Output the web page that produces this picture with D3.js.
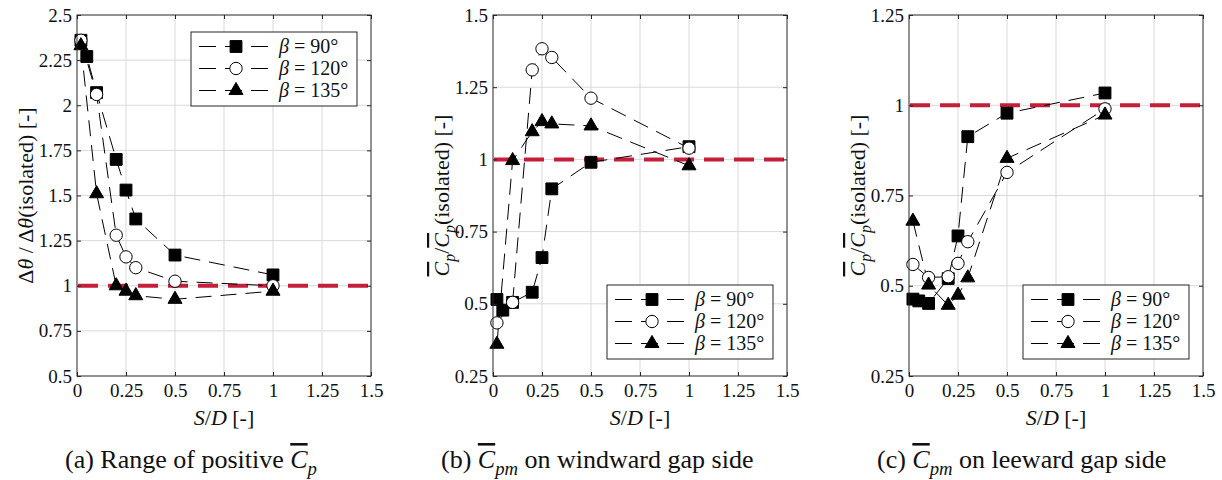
<!DOCTYPE html>
<html>
<head>
<meta charset="utf-8">
<script src="https://cdn.jsdelivr.net/npm/d3@7"></script>
<style>
  body { margin: 0; background: #fff; }
</style>
</head>
<body>
<script>
// S/D positions (the 90 deg series has one extra point at 0.05)
const sdSquare = [0.02, 0.05, 0.1, 0.2, 0.25, 0.3, 0.5, 1];
const sdOther = [0.02, 0.1, 0.2, 0.25, 0.3, 0.5, 1];

// (a) range of positive Cp
const a90 = [2.36, 2.27, 2.07, 1.70, 1.53, 1.37, 1.17, 1.06];
const a120 = [2.36, 2.06, 1.28, 1.16, 1.10, 1.025, 1.0];
const a135 = [2.33, 1.51, 1.0, 0.97, 0.945, 0.925, 0.97];

// (b) windward gap side
const b90 = [0.515, 0.478, 0.505, 0.54, 0.66, 0.898, 0.99, 1.044];
const b120 = [0.434, 0.505, 1.31, 1.383, 1.353, 1.212, 1.039];
const b135 = [0.36, 0.996, 1.096, 1.131, 1.123, 1.116, 0.978];

// (c) leeward gap side
const c90 = [0.463, 0.458, 0.451, 0.52, 0.638, 0.913, 0.978, 1.034];
const c120 = [0.559, 0.523, 0.525, 0.562, 0.622, 0.814, 0.99];
const c135 = [0.679, 0.502, 0.446, 0.474, 0.522, 0.853, 0.973];

const xTicks = [0, 0.25, 0.5, 0.75, 1, 1.25, 1.5];
const yTicksA = [0.5, 0.75, 1, 1.25, 1.5, 1.75, 2, 2.25, 2.5];
const yTicksB = [0.25, 0.5, 0.75, 1, 1.25, 1.5];
const yTicksC = [0.25, 0.5, 0.75, 1, 1.25];

const legendLabels = ["90°", "120°", "135°"];
const refValue = 1;

const width = 1222, height = 480;
const plotTop = 15, plotBottom = 376, plotW = 294;

const svg = d3.select("body").append("svg")
  .attr("width", width)
  .attr("height", height);

// writes a list of styled pieces into a text element
const rich = (txt, parts, fs) => {
  let shift = 0;
  parts.forEach(p => {
    const ts = txt.append("tspan").text(p.t);
    if (p.it) ts.attr("font-style", "italic");
    if (p.over) ts.style("text-decoration", "overline");
    let want = p.sub ? fs * 0.28 : 0;
    if (want !== shift) { ts.attr("dy", want - shift); shift = want; }
    if (p.sub) ts.attr("font-size", fs * 0.72);
  });
};

const cpOverParts = [
  {t: "C", it: true, over: true}, {t: "p", it: true, sub: true},
  {t: "/"},
  {t: "C", it: true, over: true}, {t: "p", it: true, sub: true},
  {t: "(isolated)  [-]"}
];

const panels = [
  {left: 77, yDomain: [0.5, 2.5], yTicks: yTicksA, ys: [a90, a120, a135], legTop: 17,
   ylab: [{t: "Δ"}, {t: "θ", it: true}, {t: " / Δ"}, {t: "θ", it: true}, {t: "(isolated)  [-]"}],
   capX: 65, cap: [{t: "(a)  Range of positive "}, {t: "C", it: true, over: true}, {t: "p", it: true, sub: true}]},
  {left: 493, yDomain: [0.25, 1.5], yTicks: yTicksB, ys: [b90, b120, b135], legTop: 270,
   ylab: cpOverParts,
   capX: 441, cap: [{t: "(b)  "}, {t: "C", it: true, over: true}, {t: "pm", it: true, sub: true}, {t: " on windward gap side"}]},
  {left: 909, yDomain: [0.25, 1.25], yTicks: yTicksC, ys: [c90, c120, c135], legTop: 270,
   ylab: cpOverParts,
   capX: 877, cap: [{t: "(c)  "}, {t: "C", it: true, over: true}, {t: "pm", it: true, sub: true}, {t: " on leeward gap side"}]}
];

const markers = [
  {type: d3.symbolSquare, size: 140, fill: "#000"},
  {type: d3.symbolCircle, size: 120, fill: "#fff"},
  {type: d3.symbolTriangle, size: 85, fill: "#000"}
];

panels.forEach(p => {
  const x = d3.scaleLinear().domain([0, 1.5]).range([p.left, p.left + plotW]);
  const y = d3.scaleLinear().domain(p.yDomain).range([plotBottom, plotTop]);
  const g = svg.append("g");

  // grid
  g.selectAll(".gx").data(xTicks.slice(1, -1)).enter().append("line")
    .attr("x1", d => x(d)).attr("x2", d => x(d))
    .attr("y1", plotTop).attr("y2", plotBottom)
    .attr("stroke", "#d9d9d9").attr("stroke-width", 1);
  g.selectAll(".gy").data(p.yTicks.slice(1, -1)).enter().append("line")
    .attr("y1", d => y(d)).attr("y2", d => y(d))
    .attr("x1", p.left).attr("x2", p.left + plotW)
    .attr("stroke", "#d9d9d9").attr("stroke-width", 1);

  // reference line at 1
  g.append("line")
    .attr("x1", x(0) + 1).attr("x2", x(1.5) - 1)
    .attr("y1", y(refValue)).attr("y2", y(refValue))
    .attr("stroke", "#c41e3a").attr("stroke-width", 4)
    .attr("stroke-dasharray", "20,10");

  // series
  p.ys.forEach((vals, i) => {
    const xs = i === 0 ? sdSquare : sdOther;
    const pts = vals.map((v, k) => [xs[k], v]);
    g.append("path")
      .attr("d", d3.line().x(d => x(d[0])).y(d => y(d[1]))(pts))
      .attr("fill", "none").attr("stroke", "#000").attr("stroke-width", 1)
      .attr("stroke-dasharray", "16,9");
  });
  p.ys.forEach((vals, i) => {
    const xs = i === 0 ? sdSquare : sdOther;
    const m = markers[i];
    g.selectAll(null).data(vals).enter().append("path")
      .attr("transform", (d, k) => `translate(${x(xs[k])},${y(d)})`)
      .attr("d", d3.symbol().type(m.type).size(m.size))
      .attr("fill", m.fill).attr("stroke", "#000").attr("stroke-width", 1);
  });

  // axes: box with inward ticks on all sides
  const tl = -4;
  g.append("g").attr("transform", `translate(0,${plotBottom})`)
    .call(d3.axisBottom(x).tickValues(xTicks).tickSizeInner(tl).tickSizeOuter(0).tickFormat(d => String(d)))
    .call(a => a.selectAll("text").attr("y", 8).attr("font-size", 19));
  g.append("g").attr("transform", `translate(0,${plotTop})`)
    .call(d3.axisTop(x).tickValues(xTicks).tickSizeInner(tl).tickSizeOuter(0).tickFormat(""));
  g.append("g").attr("transform", `translate(${p.left},0)`)
    .call(d3.axisLeft(y).tickValues(p.yTicks).tickSizeInner(tl).tickSizeOuter(0).tickFormat(d => String(d)))
    .call(a => a.selectAll("text").attr("x", -5).attr("font-size", 19));
  g.append("g").attr("transform", `translate(${p.left + plotW},0)`)
    .call(d3.axisRight(y).tickValues(p.yTicks).tickSizeInner(tl).tickSizeOuter(0).tickFormat(""));
  g.selectAll(".domain").remove();
  g.selectAll(".tick line").attr("stroke", "#262626");
  g.append("rect")
    .attr("x", p.left).attr("y", plotTop)
    .attr("width", plotW).attr("height", plotBottom - plotTop)
    .attr("fill", "none").attr("stroke", "#262626").attr("stroke-width", 1);

  // axis labels
  const xl = g.append("text").attr("x", p.left + plotW / 2).attr("y", 425)
    .attr("text-anchor", "middle").attr("font-size", 22);
  rich(xl, [{t: "S", it: true}, {t: "/"}, {t: "D", it: true}, {t: " [-]"}], 22);

  const yl = g.append("text")
    .attr("transform", `translate(${p.left - 44},${(plotTop + plotBottom) / 2}) rotate(-90)`)
    .attr("text-anchor", "middle").attr("font-size", 22);
  rich(yl, p.ylab, 22);

  // legend
  const lx = p.left + 114, ly = plotTop + p.legTop;
  const leg = g.append("g").attr("transform", `translate(${lx},${ly})`);
  leg.append("rect").attr("width", 166).attr("height", 74)
    .attr("fill", "#fff").attr("stroke", "#262626").attr("stroke-width", 1);
  legendLabels.forEach((lab, i) => {
    const ry = 14.5 + i * 22;
    leg.append("line").attr("x1", 8).attr("x2", 82).attr("y1", ry).attr("y2", ry)
      .attr("stroke", "#000").attr("stroke-width", 1).attr("stroke-dasharray", "17,9");
    leg.append("path").attr("transform", `translate(45,${ry})`)
      .attr("d", d3.symbol().type(markers[i].type).size(markers[i].size))
      .attr("fill", markers[i].fill).attr("stroke", "#000");
    const t = leg.append("text").attr("x", 88).attr("y", ry + 6).attr("font-size", 20);
    rich(t, [{t: "β", it: true}, {t: " = " + lab}], 20);
  });

  // caption
  const cap = svg.append("text").attr("x", p.capX).attr("y", 468).attr("font-size", 26);
  rich(cap, p.cap, 26);
});

// serif everywhere
svg.selectAll("text").style("font-family", '"Liberation Serif"').style("fill", "#111");
</script>
</body>
</html>
